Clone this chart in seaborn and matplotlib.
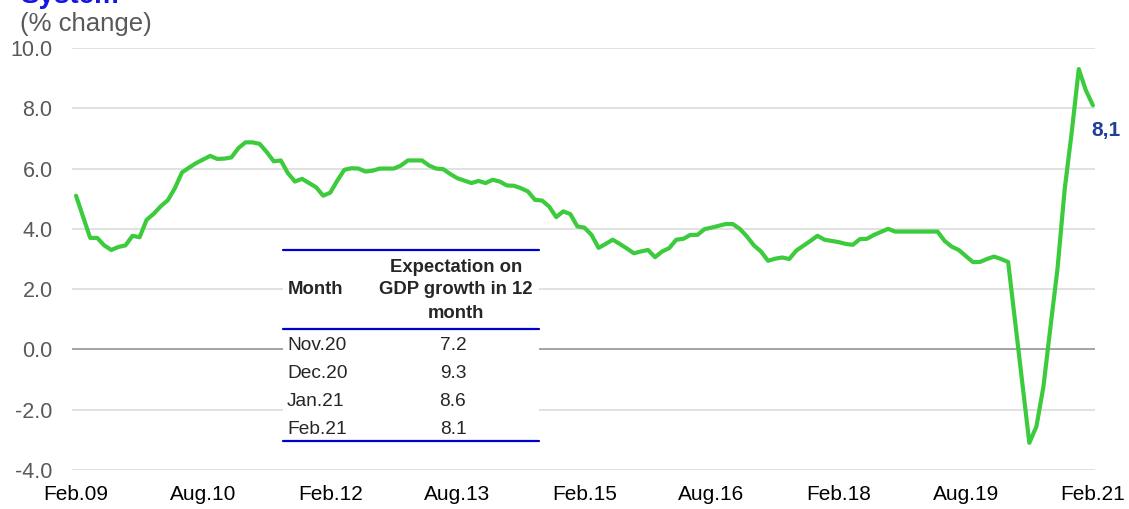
import numpy as np
import pandas as pd
import matplotlib
matplotlib.use("Agg")
import matplotlib.pyplot as plt
from matplotlib.patches import Rectangle
from matplotlib.lines import Line2D
import seaborn as sns

# monthly series, Feb.09 .. Feb.21 (145 months)
gdp_expectation = [
    5.1, 4.4, 3.7, 3.7, 3.45, 3.3, 3.4, 3.45, 3.77, 3.72,
    4.3, 4.5, 4.75, 4.95, 5.35, 5.87, 6.03, 6.18, 6.3, 6.42,
    6.32, 6.33, 6.37, 6.68, 6.87, 6.87, 6.82, 6.55, 6.24, 6.27,
    5.85, 5.57, 5.66, 5.52, 5.38, 5.1, 5.2, 5.6, 5.96, 6.01,
    6.0, 5.9, 5.93, 6.0, 6.0, 6.0, 6.1, 6.27, 6.27, 6.27,
    6.1, 6.0, 5.98, 5.82, 5.68, 5.6, 5.52, 5.59, 5.52, 5.63,
    5.57, 5.44, 5.43, 5.35, 5.24, 4.96, 4.94, 4.74, 4.39, 4.58,
    4.49, 4.08, 4.04, 3.8, 3.37, 3.5, 3.64, 3.5, 3.35, 3.19,
    3.25, 3.3, 3.06, 3.25, 3.36, 3.64, 3.67, 3.8, 3.8, 3.99,
    4.04, 4.1, 4.16, 4.16, 4.0, 3.75, 3.45, 3.25, 2.94, 3.01,
    3.05, 3.0, 3.28, 3.44, 3.6, 3.77, 3.64, 3.6, 3.56, 3.5,
    3.47, 3.66, 3.67, 3.8, 3.9, 4.0, 3.91, 3.91, 3.91, 3.91,
    3.91, 3.91, 3.91, 3.6, 3.41, 3.3, 3.1, 2.9, 2.9, 3.0,
    3.08, 3.0, 2.9, 0.9, -1.1, -3.1, -2.56, -1.23, 0.76, 2.7,
    5.3, 7.2, 9.3, 8.6, 8.1,
]
month_idx = list(range(len(gdp_expectation)))
tick_labels = ["Feb.09", "Aug.10", "Feb.12", "Aug.13", "Feb.15",
               "Aug.16", "Feb.18", "Aug.19", "Feb.21"]
tick_pos = list(range(0, 145, 18))

table_months = ["Nov.20", "Dec.20", "Jan.21", "Feb.21"]
table_values = ["7.2", "9.3", "8.6", "8.1"]

df = pd.DataFrame({"month": month_idx, "value": gdp_expectation})

sns.set_style("white")
plt.rcParams["font.family"] = ["Liberation Sans", "DejaVu Sans"]

W, H = 1129, 509
fig = plt.figure(figsize=(W / 100, H / 100), dpi=100)
ax = fig.add_axes([72 / W, 1 - 470 / H, (1095 - 72) / W, (470 - 48) / H])

ax.set_ylim(-4, 10)
ax.set_xlim(-0.57, 144.3)
yt = np.arange(-4, 10.1, 2)
for v in yt:
    if v == 0:
        ax.axhline(v, color="#8c8c8c", lw=1.1, zorder=1)
    else:
        ax.axhline(v, color="#d9d9d9", lw=1.1, zorder=1)

sns.lineplot(data=df, x="month", y="value", ax=ax, color="#3ccb3c",
             linewidth=3.0, zorder=3, clip_on=False)

ax.set_yticks(yt)
ax.set_yticklabels([f"{v:.1f}" for v in yt], color="#595959", fontsize=15.5)
ax.set_xticks(tick_pos)
ax.set_xticklabels(tick_labels, color="black", fontsize=15)
ax.tick_params(axis="y", length=0, pad=14)
ax.tick_params(axis="x", length=0, pad=11)
ax.set_xlabel("")
ax.set_ylabel("")
for s in ax.spines.values():
    s.set_visible(False)

ax.annotate("8,1", xy=(month_idx[-1], gdp_expectation[-1]), xytext=(-1, -18),
            textcoords="offset points", ha="left", va="center",
            fontsize=15, fontweight="bold", color="#1f3f99", annotation_clip=False)

def px(x, y):
    return x / W, 1 - y / H

fig.text(*px(20, 24), "(% change)", fontsize=18.5, color="#595959", va="center", ha="left")
fig.text(*px(20, 3), "System", fontsize=20, color="#1414e6", fontweight="bold",
         va="baseline", ha="left")

# inset table
x0, x1 = 283, 539
fig.add_artist(Rectangle(px(x0, 441), (x1 - x0) / W, (441 - 250) / H,
                         transform=fig.transFigure, facecolor="white",
                         edgecolor="none", zorder=5))
for yy in (250, 329, 441):
    fig.add_artist(Line2D([x0 / W, x1 / W], [1 - yy / H, 1 - yy / H],
                          transform=fig.transFigure, color="#0000cc", lw=1.6, zorder=6))
fig.text(*px(288, 290), "Month", fontsize=13.3, fontweight="bold", ha="left",
         va="center", zorder=7)
for txt, yy in zip(["Expectation on", "GDP growth in 12", "month"], (267, 290, 313)):
    fig.text(*px(456, yy), txt, fontsize=13.3, fontweight="bold", ha="center",
             va="center", zorder=7)
for m, v, yy in zip(table_months, table_values, (346, 374, 402, 430)):
    fig.text(*px(287, yy), m, fontsize=13.8, ha="left", va="center", zorder=7)
    fig.text(*px(453, yy), v, fontsize=13.8, ha="center", va="center", zorder=7)

fig.savefig("out.png", dpi=100)
